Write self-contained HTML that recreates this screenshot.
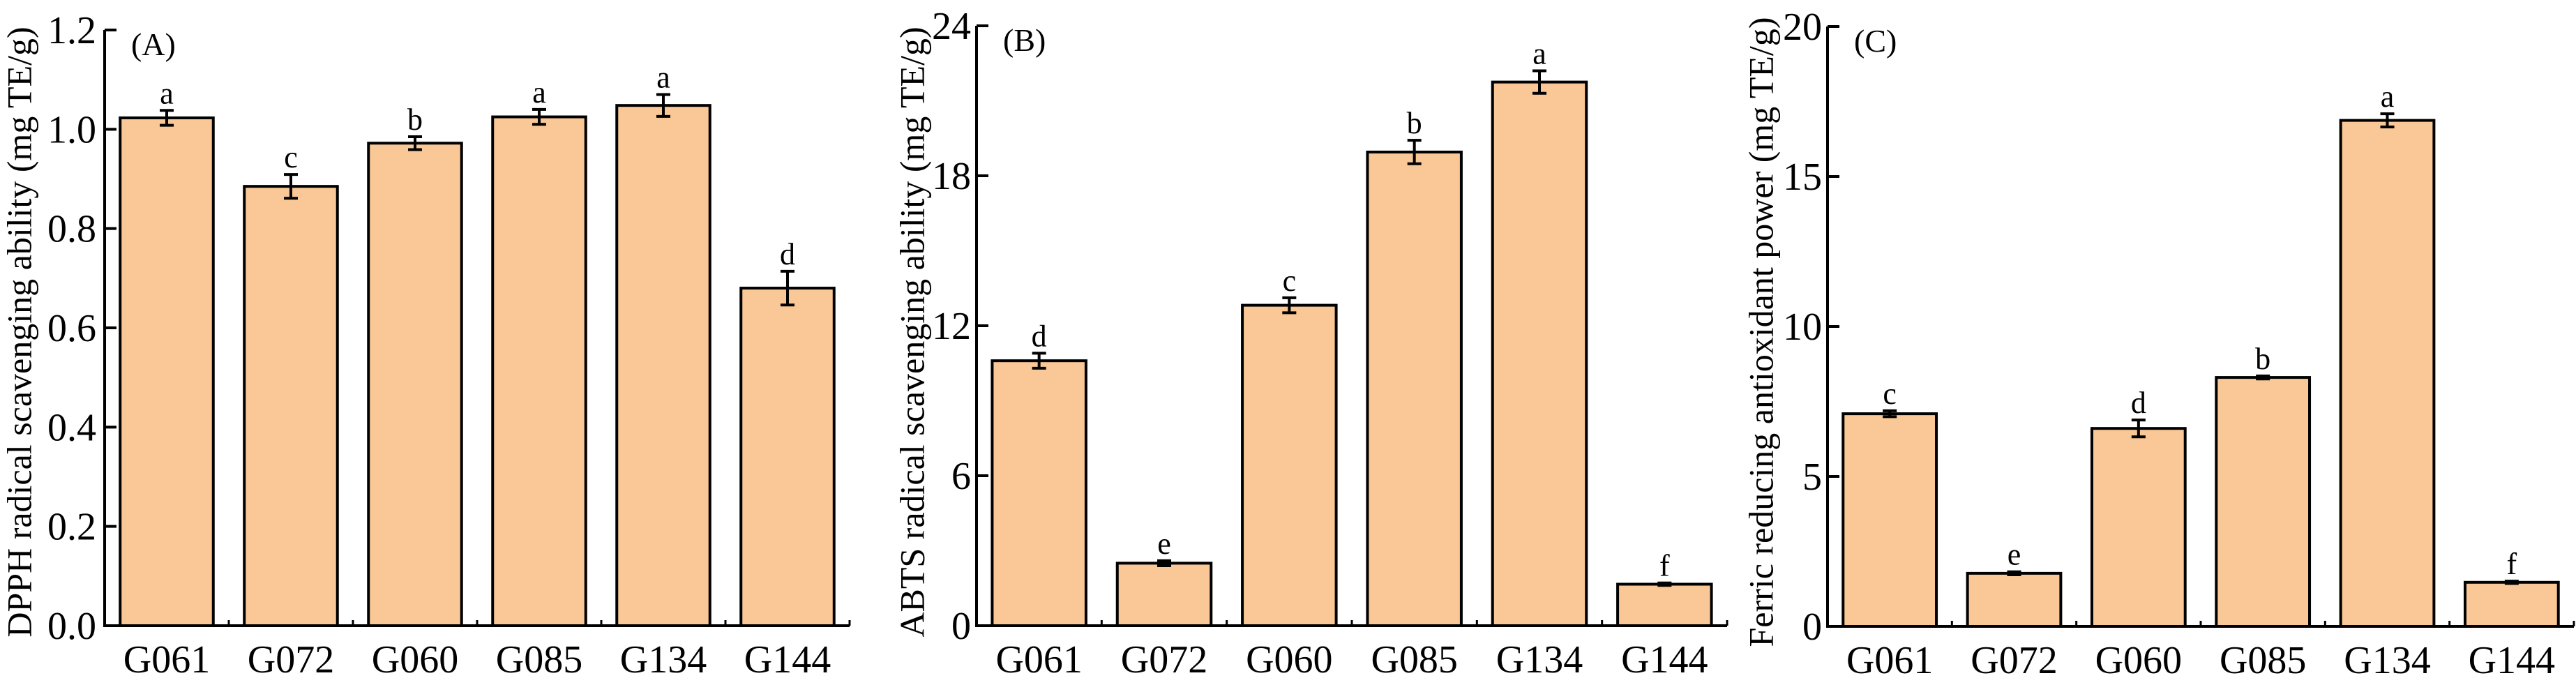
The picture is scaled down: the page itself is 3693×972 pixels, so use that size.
<!DOCTYPE html>
<html><head><meta charset="utf-8">
<style>
html,body{margin:0;padding:0;background:#fff;}
svg{display:block;}
text{font-family:"Liberation Serif","Times New Roman",serif;}
</style></head>
<body>
<svg id="chart" width="3693" height="972" viewBox="0 0 3693 972" xmlns="http://www.w3.org/2000/svg" font-family="Liberation Serif, serif"></svg>
<script>
const categories = ["G061","G072","G060","G085","G134","G144"];
const dpphValues = [1.023,0.885,0.972,1.025,1.048,0.680];
const dpphErrors = [0.015,0.024,0.013,0.015,0.022,0.034];
const dpphLetters = ["a","c","b","a","a","d"];
const dpphTicks = ["0.0","0.2","0.4","0.6","0.8","1.0","1.2"];
const abtsValues = [10.6,2.5,12.82,18.95,21.75,1.66];
const abtsErrors = [0.3,0.1,0.3,0.47,0.45,0.05];
const abtsLetters = ["d","e","c","b","a","f"];
const abtsTicks = ["0","6","12","18","24"];
const fraapValues = [7.09,1.77,6.6,8.3,16.87,1.47];
const fraapErrors = [0.1,0.05,0.28,0.05,0.22,0.04];
const fraapLetters = ["c","e","d","b","a","f"];
const fraapTicks = ["0","5","10","15","20"];

const NS = "http://www.w3.org/2000/svg";
const FONT = "'Liberation Serif', 'Times New Roman', serif";
const svg = document.getElementById("chart");
function mk(tag, attrs, parent){
  const e = document.createElementNS(NS, tag);
  for (const k in attrs) e.setAttribute(k, attrs[k]);
  if (tag === "text") e.setAttribute("font-family", FONT);
  (parent||svg).appendChild(e);
  return e;
}
const panels = [
  {id:"a", x0:150, x1:1218, yTop:43, y0:897, max:1.2, vals:dpphValues, errs:dpphErrors, letters:dpphLetters, ticks:dpphTicks, tag:"(A)", title:"DPPH radical scavenging ability (mg TE/g)", titleX:27, tickRight:138},
  {id:"b", x0:1400, x1:2476, yTop:37, y0:897, max:24, vals:abtsValues, errs:abtsErrors, letters:abtsLetters, ticks:abtsTicks, tag:"(B)", title:"ABTS radical scavenging ability (mg TE/g)", titleX:1307, tickRight:1392},
  {id:"c", x0:2620, x1:3690, yTop:38, y0:898, max:20, vals:fraapValues, errs:fraapErrors, letters:fraapLetters, ticks:fraapTicks, tag:"(C)", title:"Ferric reducing antioxidant power (mg TE/g)", titleX:2524, tickRight:2612}
];
panels.forEach(p => {
  const g = mk("g", {});
  
  
  const yS = v => p.y0 - v / p.max * (p.y0 - p.yTop);
  const cw = (p.x1 - p.x0) / categories.length;
  const bw = cw * 0.75;
  categories.forEach((c, i) => {
    const cx = p.x0 + cw * (i + 0.5);
    const yt = yS(p.vals[i]);
    const r = mk("rect", {x:cx-bw/2, y:yt, width:bw, height:p.y0-yt, fill:"#F9C896", stroke:"#000", "stroke-width":4}, g);
    
    
    const eh = yS(p.vals[i] + p.errs[i]), el = yS(p.vals[i] - p.errs[i]);
    const eg = mk("g", {stroke:"#000", "stroke-width":4}, g);
    
    
    mk("line", {x1:cx, x2:cx, y1:eh, y2:el}, eg);
    mk("line", {x1:cx-10, x2:cx+10, y1:eh, y2:eh}, eg);
    mk("line", {x1:cx-10, x2:cx+10, y1:el, y2:el}, eg);
    const lt = mk("text", {x:cx, y:eh-10, "text-anchor":"middle", "font-size":44}, g);
    lt.textContent = p.letters[i];
    
    
    const xl = mk("text", {x:cx, y:p.y0+67, "text-anchor":"middle", "font-size":56}, g);
    xl.textContent = c;
    
    
    if (i > 0) mk("line", {x1:p.x0+cw*i, x2:p.x0+cw*i, y1:p.y0, y2:p.y0-8, stroke:"#000", "stroke-width":3}, g);
  });
  mk("line", {x1:p.x1, x2:p.x1, y1:p.y0, y2:p.y0-8, stroke:"#000", "stroke-width":3}, g);
  const ax = mk("path", {d:`M${p.x0},${p.yTop} V${p.y0} H${p.x1}`, fill:"none", stroke:"#000", "stroke-width":4}, g);
  
  
  p.ticks.forEach((t, k) => {
    const y = yS(parseFloat(t));
    mk("line", {x1:p.x0, x2:p.x0+17, y1:y, y2:y, stroke:"#000", "stroke-width":4}, g);
    const tl = mk("text", {x:p.tickRight, y:y+19, "text-anchor":"end", "font-size":56}, g);
    tl.textContent = t;
    
    
  });
  const tg = mk("text", {x:p.x0+38, y:p.yTop+36, "font-size":46}, g);
  tg.textContent = p.tag;
  
  
  const yc = 476;
  const tt = mk("text", {x:p.titleX, y:yc, "text-anchor":"middle", "font-size":50, transform:`rotate(-90 ${p.titleX} ${yc})`, dy:"0.35em"}, g);
  tt.textContent = p.title;
  
  
});
</script>
</body></html>
